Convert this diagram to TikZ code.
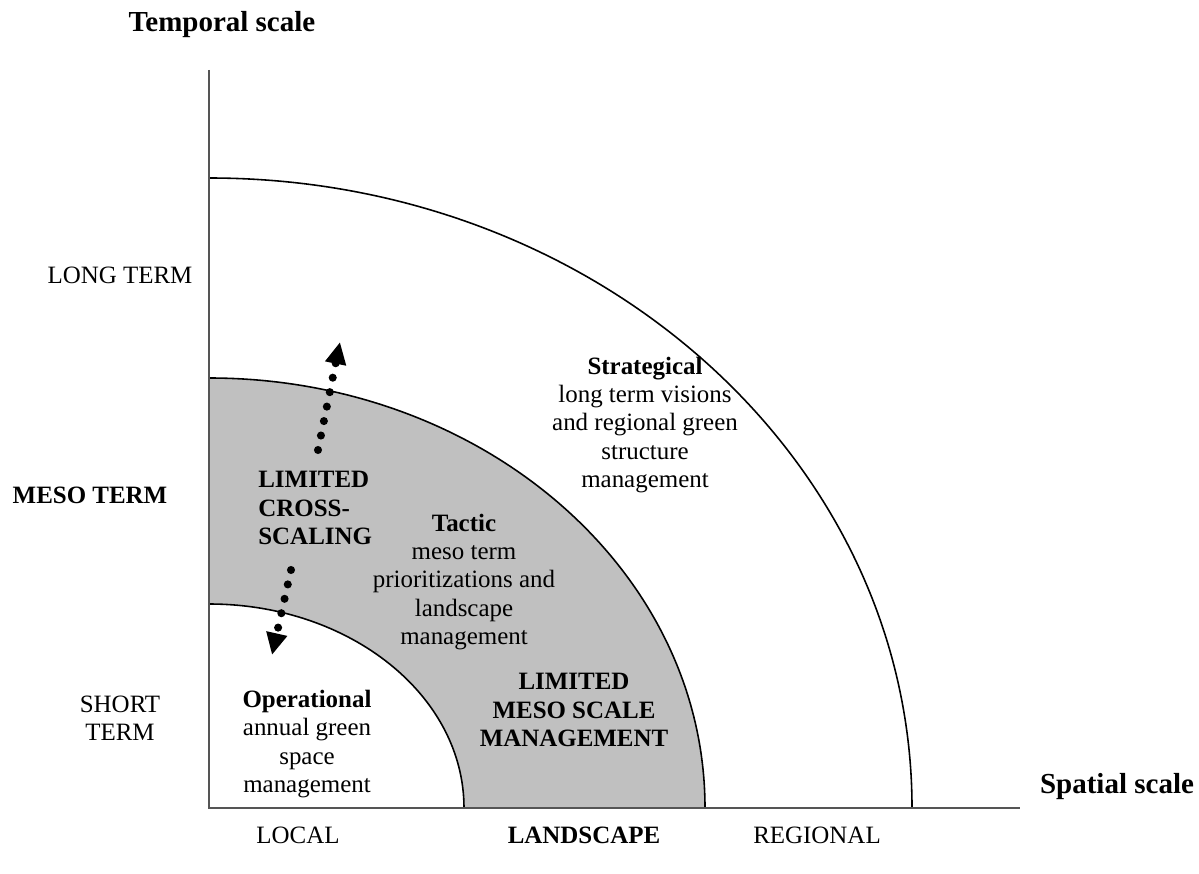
\documentclass[tikz,border=0pt]{standalone}
\usepackage{fontspec}
\setmainfont{Liberation Serif}
\usetikzlibrary{arrows.meta}
\definecolor{bandgray}{HTML}{C0C0C0}
\definecolor{axisgray}{HTML}{555555}
\begin{document}
\begin{tikzpicture}[x=0.02cm,y=0.02cm,
    txt/.style={font=\fontsize{14.2}{16.2}\selectfont, align=center, inner sep=0pt},
    ttl/.style={font=\fontsize{16.5}{19}\selectfont\bfseries, inner sep=0pt},
    dotarrow/.style={line width=4.6pt, line cap=round, dash pattern=on 0pt off 8.4pt,
      -{Triangle[length=0.44cm,width=0.4cm]}}]
      \useasboundingbox (0,0) rectangle (1199,873);
      \coordinate (O) at (209,65);
      % grey band between the inner and middle arcs
      \fill[bandgray] (O) -- ++(496,0) arc[start angle=0,end angle=90,x radius=496,y radius=430] -- cycle;
      \fill[white] (O) -- ++(255,0) arc[start angle=0,end angle=90,x radius=255,y radius=204] -- cycle;
      \draw[line width=0.9pt] (O) ++(255,0) arc[start angle=0,end angle=90,x radius=255,y radius=204];
      \draw[line width=0.9pt] (O) ++(496,0) arc[start angle=0,end angle=90,x radius=496,y radius=430];
      \draw[line width=0.9pt] (O) ++(703,0) arc[start angle=0,end angle=90,x radius=703,y radius=630];
      % axes
      \coordinate (ytop) at (209,803);
      \coordinate (xend) at (1020,65);
      \draw[axisgray, line width=1.2pt] (ytop) -- (O) -- (xend);
      \node[ttl] (temporal) at (222,848) {Temporal scale};
      \node[ttl] (spatial) at (1117,86) {Spatial scale};
      \node[txt] (longterm) at (120,598) {LONG TERM};
      \node[txt, font=\fontsize{14.2}{16.2}\selectfont\bfseries] (mesoterm) at (90,378) {MESO TERM};
      \node[txt] (shortterm) at (120,155) {SHORT\\TERM};
      \node[txt] (local) at (298,38) {LOCAL};
      \node[txt, font=\fontsize{14.2}{16.2}\selectfont\bfseries] (landscape) at (584,38) {LANDSCAPE};
      \node[txt] (regional) at (817,38) {REGIONAL};
      % texts in the bands
      \node[txt, align=left, anchor=west] (cross) at (258,365) {\textbf{LIMITED}\\\textbf{CROSS-}\\\textbf{SCALING}};
      \node[txt] (operational) at (307,129) {\textbf{Operational}\\annual green\\space\\management};
      \node[txt] (tactic) at (464,291) {\textbf{Tactic}\\meso term\\prioritizations and\\landscape\\management};
      \node[txt] (mesoscale) at (574,163) {\textbf{LIMITED}\\\textbf{MESO SCALE}\\\textbf{MANAGEMENT}};
      \node[txt] (strategical) at (645,448) {\textbf{Strategical}\\long term visions\\and regional green\\structure\\management};
      % cross-scaling arrows
      \coordinate (upS) at (318,423);
      \coordinate (upE) at (340,531);
      \coordinate (dnS) at (291,303);
      \coordinate (dnE) at (272,218);
      \draw[dotarrow] (upS) -- (upE);
      \draw[dotarrow] (dnS) -- (dnE);
\end{tikzpicture}
\end{document}
